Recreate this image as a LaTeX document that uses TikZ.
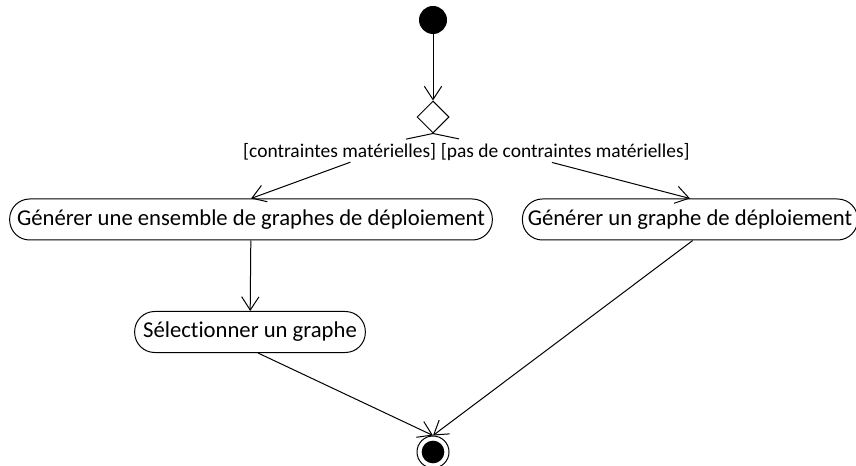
\documentclass[tikz,border=0pt]{standalone}
\usepackage{fontspec}
\setmainfont{Carlito}[Ligatures=NoCommon]
\usetikzlibrary{arrows.meta,shapes.geometric}

\begin{document}
\begin{tikzpicture}[x=0.75pt,y=-0.75pt,line width=0.75pt,
  activity/.style={draw,rounded corners=15pt,minimum height=30.75pt,inner xsep=4pt,font=\fontsize{17}{20}\selectfont},
  guard/.style={inner sep=1pt,font=\fontsize{14.6}{17}\selectfont},
  flow/.style={-{Straight Barb[length=10pt,width=13pt]}}]
\useasboundingbox (0,0) rectangle (856,466);
% start and decision
\node[circle,fill,minimum size=21pt,inner sep=0] (start) at (433,20) {};
\node[diamond,draw,minimum width=24pt,minimum height=24pt,inner sep=0] (choice) at (433,117) {};
\node[guard,anchor=east] (withhw) at (438,152) {[contraintes matérielles]};
\node[guard,anchor=west] (nohw) at (439,152) {[pas de contraintes matérielles]};
% activities
\node[activity,minimum width=362pt] (genset) at (251,219.5) {Générer une ensemble de graphes de déploiement};
\node[activity,minimum width=249pt] (genone) at (690,219.5) {Générer un graphe de déploiement};
\node[activity,minimum width=173pt] (select) at (250,332) {Sélectionner un graphe};
% end
\node[circle,draw,minimum size=24pt,inner sep=0] (stop) at (433,452) {};
\node[circle,fill,minimum size=17pt,inner sep=0] (stopdot) at (stop) {};
% flows
\draw[flow] (start) -- (choice.north);
\draw (choice.south) -- ([xshift=-24pt,yshift=2pt]withhw.north east);
\draw (choice.south) -- ([xshift=15pt,yshift=2pt]nohw.north west);
\draw[flow] ([xshift=8pt]withhw.south) -- (genset.north);
\draw[flow] ([xshift=-10pt]nohw.south) -- (genone.north);
\draw[flow] (genset) -- (select);
\draw[flow] ([xshift=6pt]select.south) -- (stop.north);
\draw[flow] ([xshift=2pt]genone.south) -- (stop.north);
\end{tikzpicture}
\end{document}
